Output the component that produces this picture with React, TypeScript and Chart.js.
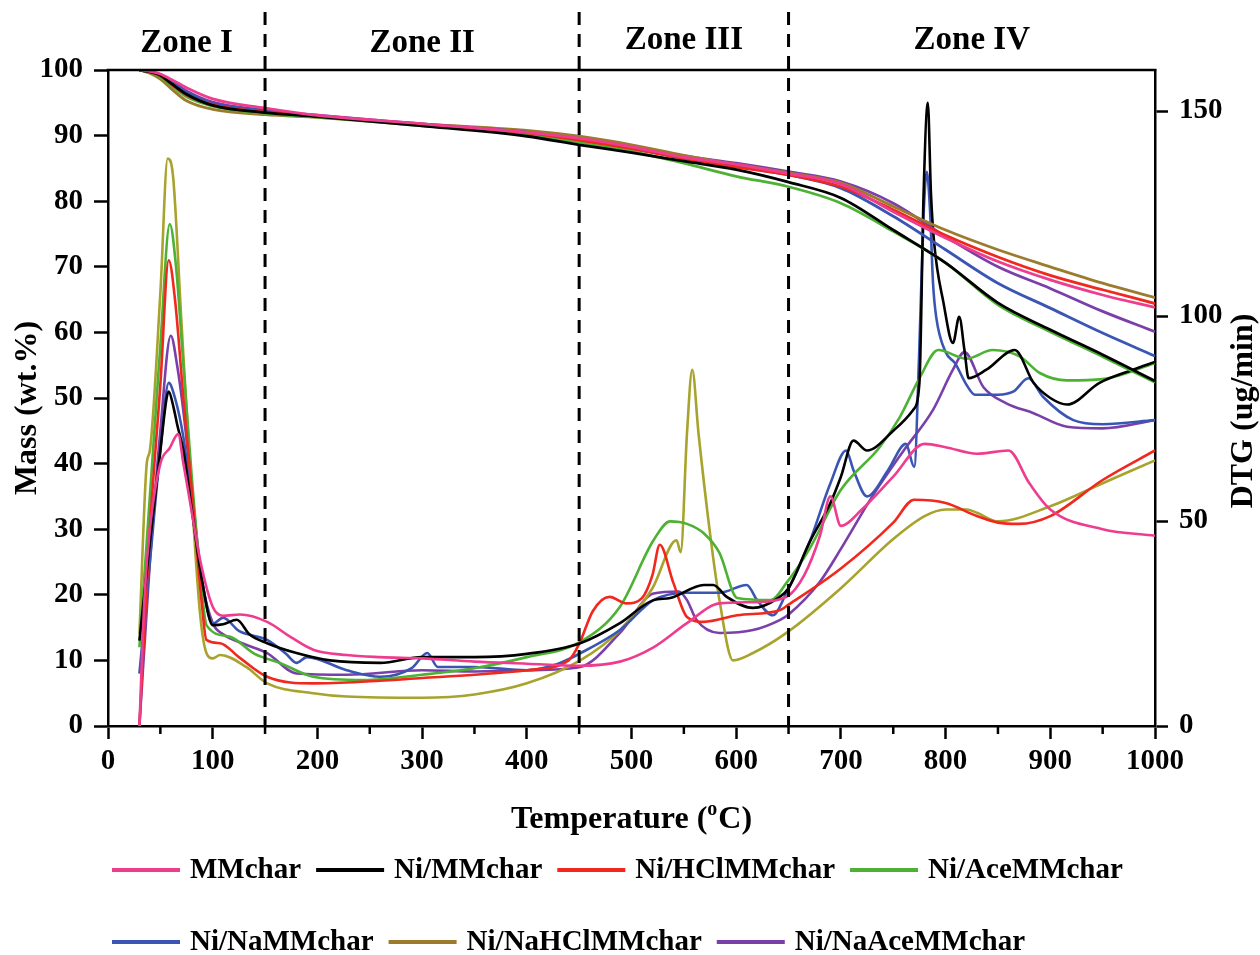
import React, { useEffect, useRef } from "react";
import { Chart, registerables } from "chart.js";
Chart.register(...registerables);

const FONT = "'Liberation Serif', 'Times New Roman', Times, serif";

const seriesNames = ["MMchar", "Ni/MMchar", "Ni/HClMMchar", "Ni/AceMMchar", "Ni/NaMMchar", "Ni/NaHClMMchar", "Ni/NaAceMMchar"];
const massColors = ["#ee3d8f", "#000000", "#f0281e", "#4db233", "#3a55b4", "#9c7b2d", "#7a3fa8"];
const dtgColors = ["#ee3d8f", "#000000", "#f0281e", "#4db233", "#3a55b4", "#a8a32c", "#7a3fa8"];
const legendRows = [[0, 1, 2, 3], [4, 5, 6]];

// Mass (wt.%) vs temperature
const massT = [30, 40, 50, 60, 75, 100, 150, 200, 300, 400, 450, 500, 550, 600, 650, 700, 750, 800, 850, 900, 950, 1000];
const massMMchar = [100, 99.8, 99.4, 98.6, 97.3, 95.6, 94.2, 93.1, 91.8, 90.5, 89.6, 88.3, 86.7, 85.6, 84.2, 82.6, 78.4, 74.4, 70.8, 68.0, 65.7, 63.8];
const massNi = [100, 99.7, 99.2, 98.0, 96.3, 94.6, 93.5, 92.9, 91.5, 89.9, 88.6, 87.4, 86.1, 84.8, 82.9, 80.5, 75.6, 70.6, 64.5, 60.4, 56.6, 52.6];
const massNiHCl = [100, 99.7, 99.1, 97.9, 96.2, 94.7, 93.6, 93.0, 91.7, 90.4, 89.3, 88.0, 86.5, 85.2, 84.0, 82.2, 78.7, 74.8, 71.5, 68.7, 66.5, 64.4];
const massNiAce = [100, 99.6, 98.9, 97.7, 95.9, 94.5, 93.4, 92.8, 91.5, 90.2, 89.0, 87.6, 85.8, 83.8, 82.2, 79.7, 75.4, 70.6, 64.2, 60.1, 56.3, 52.4];
const massNiNa = [100, 99.7, 99.2, 98.2, 96.6, 94.9, 93.8, 93.0, 91.7, 90.5, 89.3, 88.0, 86.6, 85.3, 84.0, 82.0, 77.7, 72.6, 67.5, 63.7, 59.9, 56.4];
const massNiNaHCl = [100, 99.5, 98.6, 97.2, 95.3, 94.0, 93.2, 92.8, 91.8, 90.8, 89.9, 88.6, 87.0, 85.6, 84.3, 82.8, 79.2, 75.6, 72.6, 70.0, 67.5, 65.3];
const massNiNaAce = [100, 99.7, 99.3, 98.4, 96.8, 95.1, 93.9, 93.1, 91.8, 90.5, 89.5, 88.3, 86.9, 85.8, 84.5, 83.0, 79.7, 74.6, 70.0, 66.7, 63.2, 60.1];

// DTG (ug/min) vs temperature
const dtgT_MMchar = [30, 35, 40, 50, 59, 67, 72, 78, 88, 100, 110, 126, 152, 175, 196, 228, 260, 300, 350, 400, 450, 489, 521, 553, 584, 616, 648, 665, 680, 690, 700, 720, 750, 780, 800, 830, 860, 880, 900, 950, 1000];
const dtgMMchar = [0, 32, 48, 64, 67.8, 71.2, 64, 55.2, 40.5, 29.1, 26.9, 27.2, 25.4, 21.6, 18.6, 17.3, 16.8, 16.5, 15.7, 15.2, 14.7, 15.7, 19.2, 25.1, 29.9, 30.2, 31.5, 36.8, 46.4, 56, 48.8, 52.8, 60.8, 68.8, 68, 66.4, 67.2, 59.2, 52.8, 48, 46.4];

const dtgT_Ni = [30, 40, 50, 56, 58, 62, 66, 72, 80, 90, 100, 110, 123, 135, 152, 180, 212, 260, 300, 350, 400, 451, 489, 521, 537, 569, 578, 591, 616, 640, 650, 670, 690, 700, 712, 725, 750, 769, 775, 779, 783, 786, 789, 798, 807, 813, 818, 822, 839, 866, 884, 900, 916, 947, 979, 1000];
const dtgNi = [20.8, 44.8, 67.2, 80, 81.6, 78.4, 73.6, 67.2, 52.8, 35.2, 24.6, 24.8, 25.9, 22.4, 20.2, 17.8, 16, 15.4, 16.8, 16.8, 17.6, 20.2, 25.1, 30.7, 31.2, 34.4, 34.4, 31.5, 28.8, 31.2, 33.6, 44.8, 54.4, 60.8, 69.6, 67.2, 72, 77.1, 83.7, 130, 152, 130, 118, 103.2, 93.4, 99.8, 91.7, 84.8, 86.9, 91.7, 83.7, 80, 78.4, 83.7, 86.9, 88.8];

const dtgT_NiHCl = [30, 40, 50, 58, 64, 72, 80, 90, 94, 107, 125, 152, 196, 250, 300, 350, 400, 440, 450, 463, 479, 495, 510, 520, 527, 540, 553, 569, 601, 642, 650, 700, 750, 770, 800, 830, 850, 870, 900, 950, 1000];
const dtgNiHCl = [0, 48, 83.2, 113.6, 104, 80, 57.6, 28.8, 21, 20.2, 16.8, 12, 10.4, 10.9, 11.7, 12.5, 13.6, 16, 20, 28, 31.5, 29.9, 31.2, 36.8, 44.2, 34.9, 26.6, 25.4, 27, 28.3, 29.6, 38.4, 49.6, 55.2, 54.4, 51.2, 49.6, 49.3, 51.2, 60, 67.2];

const dtgT_NiAce = [30, 40, 50, 59, 65, 72, 80, 90, 94, 116, 140, 164, 196, 244, 300, 350, 400, 451, 489, 521, 537, 553, 569, 584, 601, 633, 648, 670, 700, 737, 756, 775, 793, 820, 845, 871, 890, 916, 950, 1000];
const dtgNiAce = [19.2, 56, 92.8, 122.4, 112, 88, 60.8, 32, 24.6, 21.8, 17.6, 15.4, 12, 11.2, 12.5, 14.1, 16.8, 20.5, 29.1, 45.3, 49.9, 49.3, 47, 42.2, 31.2, 30.7, 34.9, 43.2, 57.6, 68, 75.2, 84.8, 91.7, 89.6, 91.7, 90.1, 86.1, 84.3, 84.6, 88.5];

const dtgT_NiNa = [30, 40, 50, 58, 64, 72, 80, 90, 100, 110, 125, 152, 170, 180, 190, 228, 260, 290, 305, 315, 350, 400, 430, 450, 489, 521, 553, 584, 610, 620, 635, 648, 670, 690, 705, 712, 725, 745, 762, 770, 775, 779, 782, 785, 788, 791, 800, 809, 820, 828, 850, 865, 879, 893, 922, 950, 1000];
const dtgNiNa = [12.8, 40, 67.2, 83.7, 80, 70.4, 54.4, 35.2, 25, 26.4, 23.2, 21, 17.6, 15.4, 16.8, 13.6, 12, 14.1, 17.8, 14.4, 14.4, 13.6, 15.2, 17.6, 23.4, 30.7, 32.5, 32.5, 34.4, 30.7, 27, 32.5, 44.8, 59.2, 67.2, 62.4, 56, 62.4, 68.8, 63.2, 92.8, 124.8, 135.2, 126.4, 108, 99.8, 91.2, 88.5, 83.2, 80.8, 80.8, 81.6, 84.8, 80.3, 74.6, 73.6, 74.6];

const dtgT_NiNaHCl = [30, 37, 40, 50, 57, 62, 70, 80, 88, 94, 100, 107, 132, 152, 196, 228, 300, 350, 400, 451, 489, 520, 543, 547, 553, 558, 564, 575, 584, 597, 616, 648, 700, 750, 780, 800, 820, 830, 850, 900, 950, 1000];
const dtgNiNaHCl = [22.4, 64, 67.2, 105.6, 138.4, 134.4, 99.2, 56, 27.2, 17.8, 16.5, 17.3, 14.4, 10.4, 8, 7.2, 6.9, 7.7, 10.4, 16, 23.4, 33.6, 45.3, 42.4, 71.4, 86.9, 71.4, 47, 30.7, 16, 17.8, 22.7, 33.6, 45.6, 51.2, 52.8, 52.8, 52, 49.9, 53.6, 59.2, 64.8];

const dtgT_NiNaAce = [30, 40, 50, 60, 66, 72, 80, 90, 100, 110, 130, 152, 180, 228, 300, 350, 400, 451, 489, 521, 545, 553, 562, 584, 616, 642, 650, 680, 700, 730, 760, 788, 807, 818, 836, 858, 884, 916, 950, 1000];
const dtgNiNaAce = [0, 40, 72, 95.2, 88, 76.8, 57.6, 35.2, 25.1, 22.4, 20, 17.8, 12.8, 12.5, 13.6, 13.3, 13.6, 14.4, 22.7, 32.3, 32.8, 30.7, 25.9, 22.7, 23.4, 25.9, 27.2, 35.2, 43.2, 56, 67.2, 77.1, 86.9, 91.2, 82.7, 78.7, 76.3, 73, 72.6, 74.6];

const massSeries = [massMMchar, massNi, massNiHCl, massNiAce, massNiNa, massNiNaHCl, massNiNaAce];
const dtgTemps = [dtgT_MMchar, dtgT_Ni, dtgT_NiHCl, dtgT_NiAce, dtgT_NiNa, dtgT_NiNaHCl, dtgT_NiNaAce];
const dtgSeries = [dtgMMchar, dtgNi, dtgNiHCl, dtgNiAce, dtgNiNa, dtgNiNaHCl, dtgNiNaAce];

const xTicksMinor = [50, 150, 250, 350, 450, 550, 650, 750, 850, 950];
const dtgTicks = [0, 50, 100, 150];
const zoneBounds = [150, 450, 650];
const zoneLabels = ["Zone I", "Zone II", "Zone III", "Zone IV"];

const tickFont = { family: FONT, size: 29, weight: "bold" as const };
const plainLabel = (v: any) => String(v);

const decorPlugin = {
  id: "decor",
  afterDraw(chart: any) {
    const ctx = chart.ctx as CanvasRenderingContext2D;
    const { left, right, top, bottom } = chart.chartArea;
    const xs = chart.scales.x;
    ctx.save();
    ctx.strokeStyle = "#000";
    ctx.fillStyle = "#000";
    // top border
    ctx.lineWidth = 2.5;
    ctx.beginPath();
    ctx.moveTo(left - 1.25, top);
    ctx.lineTo(right + 1.25, top);
    ctx.stroke();
    // minor x ticks
    for (const v of xTicksMinor) {
      const px = xs.getPixelForValue(v);
      ctx.beginPath();
      ctx.moveTo(px, bottom);
      ctx.lineTo(px, bottom + 8);
      ctx.stroke();
    }
    // dashed zone separators
    ctx.lineWidth = 3;
    ctx.setLineDash([13, 9]);
    for (const b of zoneBounds) {
      const px = xs.getPixelForValue(b);
      ctx.beginPath();
      ctx.moveTo(px, 12);
      ctx.lineTo(px, bottom);
      ctx.stroke();
    }
    ctx.setLineDash([]);
    // zone labels
    ctx.font = `bold 33px ${FONT}`;
    ctx.textAlign = "center";
    ctx.textBaseline = "middle";
    const edges = [xs.min, ...zoneBounds, xs.max];
    zoneLabels.forEach((lab, i) => {
      const cx = xs.getPixelForValue((edges[i] + edges[i + 1]) / 2);
      ctx.fillText(lab, cx, i < 2 ? 43 : 40);
    });
    // x title with superscript
    ctx.textAlign = "left";
    ctx.textBaseline = "alphabetic";
    const big = `bold 32px ${FONT}`;
    const small = `bold 20px ${FONT}`;
    ctx.font = big;
    const p1 = "Temperature (";
    const p3 = "C)";
    const w1 = ctx.measureText(p1).width;
    const w3 = ctx.measureText(p3).width;
    ctx.font = small;
    const w2 = ctx.measureText("o").width + 1;
    const total = w1 + w2 + w3;
    const cx = (left + right) / 2;
    const sx = cx - total / 2;
    const base = 828;
    ctx.font = big;
    ctx.fillText(p1, sx, base);
    ctx.font = small;
    ctx.fillText("o", sx + w1, base - 13);
    ctx.font = big;
    ctx.fillText(p3, sx + w1 + w2, base);
    // y titles
    ctx.textAlign = "center";
    ctx.textBaseline = "middle";
    ctx.font = big;
    ctx.save();
    ctx.translate(28, 408);
    ctx.rotate(-Math.PI / 2);
    ctx.fillText("Mass (wt.%)", 0, 0);
    ctx.restore();
    ctx.save();
    ctx.translate(1244, 411);
    ctx.rotate(-Math.PI / 2);
    ctx.fillText("DTG (ug/min)", 0, 0);
    ctx.restore();
    // legend
    ctx.font = `bold 29px ${FONT}`;
    ctx.textAlign = "left";
    ctx.textBaseline = "middle";
    const rowY = [870, 942];
    legendRows.forEach((row, r) => {
      let x0 = 112;
      const y = rowY[r];
      row.forEach((idx) => {
        ctx.strokeStyle = massColors[idx];
        ctx.lineWidth = 4;
        ctx.beginPath();
        ctx.moveTo(x0, y);
        ctx.lineTo(x0 + 68, y);
        ctx.stroke();
        ctx.fillStyle = "#000";
        const tx = x0 + 78;
        ctx.fillText(seriesNames[idx], tx, y + 1);
        x0 = tx + ctx.measureText(seriesNames[idx]).width + 15;
      });
    });
    ctx.restore();
  },
};

export default function App() {
  const ref = useRef<HTMLCanvasElement | null>(null);
  useEffect(() => {
    if (!ref.current) return;
    const datasets: any[] = [];
    massSeries.forEach((vals, i) => {
      datasets.push({
        label: seriesNames[i] + " mass",
        data: massT.map((t, j) => ({ x: t, y: vals[j] })),
        borderColor: massColors[i],
        backgroundColor: massColors[i],
        borderWidth: 2.8,
        pointRadius: 0,
        cubicInterpolationMode: "monotone",
        yAxisID: "y",
        fill: false,
      });
    });
    dtgSeries.forEach((vals, i) => {
      datasets.push({
        label: seriesNames[i] + " DTG",
        data: dtgTemps[i].map((t, j) => ({ x: t, y: vals[j] })),
        borderColor: dtgColors[i],
        backgroundColor: dtgColors[i],
        borderWidth: 2.6,
        pointRadius: 0,
        cubicInterpolationMode: "monotone",
        yAxisID: "y2",
        fill: false,
      });
    });
    const chart = new Chart(ref.current, {
      type: "line",
      data: { datasets },
      options: {
        responsive: false,
        animation: false,
        devicePixelRatio: 1,
        layout: { padding: { top: 70, left: 0, right: 0, bottom: 0 } },
        plugins: { legend: { display: false }, tooltip: { enabled: false }, title: { display: false } },
        scales: {
          x: {
            type: "linear",
            min: 0,
            max: 1000,
            ticks: { stepSize: 100, color: "#000", font: tickFont, padding: 5, maxRotation: 0, autoSkip: false, callback: plainLabel },
            grid: { drawOnChartArea: false, drawTicks: true, tickLength: 13, tickWidth: 2.5, tickColor: "#000" },
            border: { display: true, color: "#000", width: 2.5 },
            afterFit: (s: any) => { s.height = 229; },
          },
          y: {
            type: "linear",
            position: "left",
            min: 0,
            max: 100,
            ticks: { stepSize: 10, color: "#000", font: tickFont, padding: 11, callback: plainLabel },
            grid: { drawOnChartArea: false, drawTicks: true, tickLength: 14, tickWidth: 2.5, tickColor: "#000" },
            border: { display: true, color: "#000", width: 2.5 },
            afterFit: (s: any) => { s.width = 108; },
          },
          y2: {
            type: "linear",
            position: "right",
            min: 0,
            max: 160,
            afterBuildTicks: (s: any) => { s.ticks = dtgTicks.map((v) => ({ value: v })); },
            ticks: { color: "#000", font: tickFont, padding: 11, callback: plainLabel },
            grid: { drawOnChartArea: false, drawTicks: true, tickLength: 13, tickWidth: 2.5, tickColor: "#000" },
            border: { display: true, color: "#000", width: 2.5 },
            afterFit: (s: any) => { s.width = 105; },
          },
        },
      } as any,
      plugins: [decorPlugin],
    });
    return () => chart.destroy();
  }, []);
  return (
    <div style={{ position: "absolute", left: 0, top: 0, width: 1260, height: 955, background: "#fff" }}>
      <canvas ref={ref} width={1260} height={955} style={{ display: "block" }} />
    </div>
  );
}
